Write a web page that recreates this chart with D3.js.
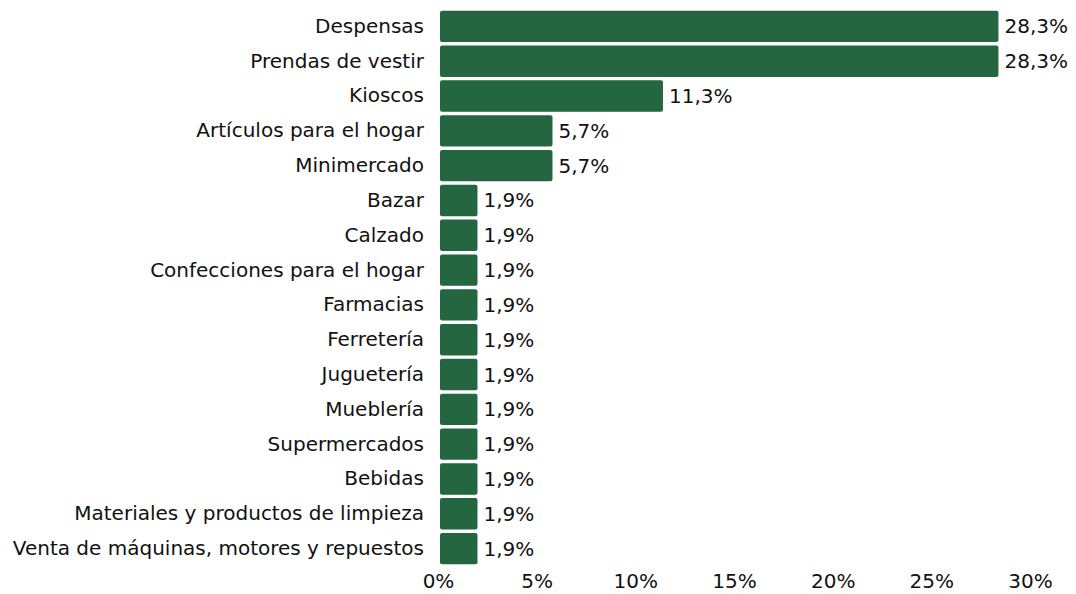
<!DOCTYPE html>
<html>
<head>
<meta charset="utf-8">
<script src="https://cdn.jsdelivr.net/npm/d3@7"></script>
<style>
  body { margin: 0; background: #fff; }
  text { font-family: "DejaVu Sans", sans-serif; fill: #111; }
</style>
</head>
<body>
<svg id="chart"></svg>
<script>
const categories = [
  "Despensas", "Prendas de vestir", "Kioscos", "Artículos para el hogar",
  "Minimercado", "Bazar", "Calzado", "Confecciones para el hogar",
  "Farmacias", "Ferretería", "Juguetería", "Mueblería", "Supermercados",
  "Bebidas", "Materiales y productos de limpieza",
  "Venta de máquinas, motores y repuestos"
];
const values = [28.3, 28.3, 11.3, 5.7, 5.7, 1.9, 1.9, 1.9, 1.9, 1.9, 1.9, 1.9, 1.9, 1.9, 1.9, 1.9];
const tickValues = [0, 5, 10, 15, 20, 25, 30];

const width = 1076, height = 594;
const margin = {top: 9, right: 44, bottom: 28, left: 440};
const fontSize = 20;

const svg = d3.select("#chart")
  .attr("width", width)
  .attr("height", height);

const data = categories.map((c, i) => ({name: c, value: values[i]}));

const x = d3.scaleLinear()
  .domain([0, 30])
  .range([margin.left, width - margin.right]);

const y = d3.scaleBand()
  .domain(categories)
  .range([margin.top, height - margin.bottom])
  .paddingInner(0.1)
  .paddingOuter(0.05);

const fmt = v => d3.format(".1f")(v).replace(".", ",") + "%";

// bars
svg.append("g")
  .selectAll("rect")
  .data(data)
  .join("rect")
  .attr("x", x(0))
  .attr("y", d => y(d.name))
  .attr("width", d => x(d.value) - x(0))
  .attr("height", y.bandwidth())
  .attr("rx", 2)
  .attr("fill", "#236640");

// value labels
svg.append("g")
  .selectAll("text")
  .data(data)
  .join("text")
  .attr("x", d => x(d.value) + 6)
  .attr("y", d => y(d.name) + y.bandwidth() / 2)
  .attr("dy", "0.35em")
  .attr("font-size", fontSize)
  .text(d => fmt(d.value));

// category axis
const yAxis = g => g
  .attr("transform", `translate(${margin.left - 6},0)`)
  .call(d3.axisLeft(y).tickSize(0).tickPadding(10))
  .call(g => g.select(".domain").remove())
  .call(g => g.selectAll("text").attr("font-size", fontSize).attr("fill", "#111"));

// value axis
const xAxis = g => g
  .attr("transform", `translate(-2,${height - margin.bottom + 2})`)
  .call(d3.axisBottom(x).tickValues(tickValues).tickSize(0).tickPadding(6)
    .tickFormat(d => d + "%"))
  .call(g => g.select(".domain").remove())
  .call(g => g.selectAll("text").attr("font-size", fontSize).attr("fill", "#111"));

svg.append("g").call(yAxis);
svg.append("g").call(xAxis);
svg.selectAll(".tick text").attr("font-family", "DejaVu Sans, sans-serif");
</script>
</body>
</html>
